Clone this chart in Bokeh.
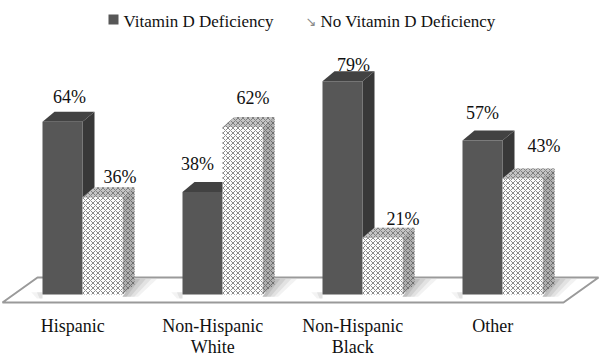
from bokeh.plotting import figure
from bokeh.models import Range1d, Label
from bokeh.core.properties import value
from bokeh.embed import file_html
from bokeh.resources import INLINE

# ---- data ----
categories = ["Hispanic", "Non-Hispanic\nWhite", "Non-Hispanic\nBlack", "Other"]
deficiency = [64, 38, 79, 57]
no_deficiency = [36, 62, 21, 43]
series_names = ["Vitamin D Deficiency", "No Vitamin D Deficiency"]

# ---- layout helpers (reference pixel -> data units) ----
PX_PER_GROUP = 140.0
X0 = 82.0          # px of group 0 boundary
BASE = 294.0       # px of 0%
PX_PER_PCT = 2.7
def ux(px):
    return (px - X0) / PX_PER_GROUP
def py(px):
    return (BASE - px) / PX_PER_PCT

FONT = "Liberation Serif"
W = 40 / PX_PER_GROUP        # bar width
DX = 12 / PX_PER_GROUP       # depth x
DY = 10 / PX_PER_PCT         # depth y

# label nudges in pixels (layout only, mimic 3-D perspective placement)
dark_nudge_x = [3, -9, 7, -4]
dark_nudge_y = [1, 4, -8, 4]
light_nudge_x = [4, -3, 7, 8]
light_nudge_y = [-4, 5, -5, 8]

p = figure(width=604, height=355,
           x_range=Range1d(ux(0), ux(604)), y_range=Range1d(py(355), py(0)),
           output_backend="svg", toolbar_location=None,
           x_axis_location=None, y_axis_location=None,
           min_border=0, min_border_left=0, min_border_right=0,
           min_border_top=0, min_border_bottom=0)
p.grid.visible = False
p.outline_line_color = None
p.background_fill_color = "white"
p.border_fill_color = "white"

# ---- floor ----
n = len(categories)
f_left, f_right = ux(2), ux(563)
f_front = py(302)
f_dx, f_dy = 35 / PX_PER_GROUP, 25 / PX_PER_PCT
p.patch([f_left, f_right, f_right + f_dx, f_left + f_dx],
        [f_front, f_front, f_front + f_dy, f_front + f_dy],
        fill_color="white", line_color="#9a9a9a", line_width=2)

# ---- shadows on floor ----
for i in range(n):
    r = i + W
    for s, a in [(0.16, 0.08), (0.12, 0.1), (0.08, 0.12), (0.04, 0.15)]:
        p.patch([r, r + DX, r + DX + s, r + s * 0.7],
                [-0.8, DY + 2, DY + 2, -0.8],
                fill_color="#555555", fill_alpha=a, line_color=None)
    l = i - W
    for s, a in [(0.08, 0.07), (0.04, 0.1)]:
        p.patch([l - s, l, l, l - s * 0.5],
                [0.8, 0.8, -1.5, -1.5],
                fill_color="#555555", fill_alpha=a, line_color=None)

# ---- bars ----
def draw_bar(left, top, front_kw, side_kw, top_kw):
    right = left + W
    p.patch([right, right + DX, right + DX, right],
            [0, DY, top + DY, top], **side_kw)
    p.patch([left, left + DX, right + DX, right],
            [top, top + DY, top + DY, top], **top_kw)
    p.quad(left=left, right=right, bottom=0, top=top, **front_kw)

dark_front = dict(fill_color="#575757", line_color=None)
dark_side = dict(fill_color="#383838", line_color=None)
dark_top = dict(fill_color="#424242", line_color=None)
hatch = dict(hatch_pattern="x", hatch_scale=5, hatch_weight=1)
light_front = dict(fill_color="white", hatch_color="#8c8c8c", line_color=None, **hatch)
light_side = dict(fill_color="#b0b0b0", hatch_color="#707070", line_color=None, **hatch)
light_top = dict(fill_color="#c4c4c4", hatch_color="#808080", line_color=None, **hatch)

for i in range(n):
    draw_bar(i - W, deficiency[i], dark_front, dark_side, dark_top)
    draw_bar(i, no_deficiency[i], light_front, light_side, light_top)

# ---- value labels ----
lab_gap = 24 / PX_PER_PCT
p.text(x=[i - 0.115 + dark_nudge_x[i] / PX_PER_GROUP for i in range(n)],
       y=[v + lab_gap + dark_nudge_y[i] / PX_PER_PCT for i, v in enumerate(deficiency)],
       text=[f"{v}%" for v in deficiency], text_font=value(FONT),
       text_font_size="18px", text_align="center", text_baseline="middle",
       text_color="#111111")
p.text(x=[i + 0.24 + light_nudge_x[i] / PX_PER_GROUP for i in range(n)],
       y=[v + lab_gap + light_nudge_y[i] / PX_PER_PCT for i, v in enumerate(no_deficiency)],
       text=[f"{v}%" for v in no_deficiency], text_font=value(FONT),
       text_font_size="18px", text_align="center", text_baseline="middle",
       text_color="#111111")

# ---- category labels ----
xs1, ys1, t1 = [], [], []
for i, c in enumerate(categories):
    for k, line in enumerate(c.split("\n")):
        xs1.append(i - 0.07)
        ys1.append(py(325 + 21 * k))
        t1.append(line)
p.text(x=xs1, y=ys1, text=t1, text_font=value(FONT), text_font_size="18px",
       text_align="center", text_baseline="middle", text_color="#111111")

# ---- legend ----
p.quad(left=ux(108), right=ux(118), bottom=py(24), top=py(14),
       fill_color="#575757", line_color=None)
p.add_layout(Label(x=ux(123), y=py(21), text=series_names[0], text_font=FONT,
                   text_font_size="17px", text_baseline="middle", text_color="#111111"))
p.add_layout(Label(x=ux(305), y=py(21), text="\u2198", text_font="DejaVu Sans",
                   text_font_size="13px", text_baseline="middle", text_color="#8a8a8a"))
p.add_layout(Label(x=ux(320), y=py(21), text=series_names[1], text_font=FONT,
                   text_font_size="17px", text_baseline="middle", text_color="#111111"))

open("out.html", "w").write(file_html(p, INLINE))
